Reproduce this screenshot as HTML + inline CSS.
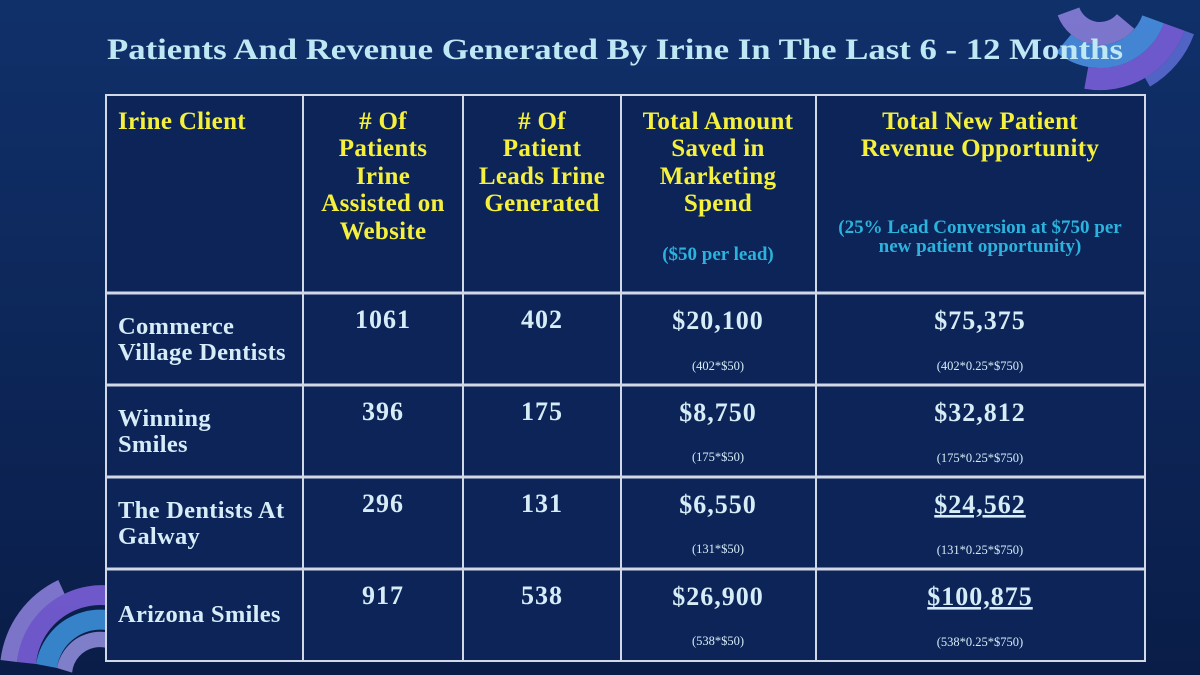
<!DOCTYPE html>
<html><head><meta charset="utf-8"><style>
html,body{margin:0;padding:0;width:1200px;height:675px;overflow:hidden;background:#0e2a5e}
svg{display:block;overflow:hidden}
text{font-family:"Liberation Serif",serif;font-weight:bold}
.h{fill:#f4f03c;font-size:25px;letter-spacing:0.3px}
.s{fill:#2bb3dd;font-size:19px}
.v{fill:#d6ecf7;font-size:26px;letter-spacing:1px}
.n{fill:#d6ecf7;font-size:24.5px;letter-spacing:0.3px}
.m{fill:#d6ecf7;font-size:12.5px;font-weight:normal}
</style></head><body>
<svg width="1200" height="675" viewBox="0 0 1200 675">
<defs><linearGradient id="bg" x1="0" y1="0" x2="0" y2="1"><stop offset="0" stop-color="#10306a"/><stop offset="1" stop-color="#0a1d48"/></linearGradient></defs>
<rect width="1200" height="675" fill="url(#bg)"/>
<g opacity="0.9">
<path d="M1194,34.2 A100,100 0 0 1 1150,86.6 L1145,77.9 A90,90 0 0 0 1184.6,30.8 Z" fill="#5a6ad0"/>
<path d="M1184.6,30.8 A90,90 0 0 1 1084.3,88.7 L1088.2,67 A68,68 0 0 0 1163.9,23.3 Z" fill="#7a5fd8"/>
<path d="M1163.9,23.3 A68,68 0 0 1 1056.3,52.1 L1071.1,34.5 A45,45 0 0 0 1142.3,15.4 Z" fill="#4a90e0"/>
<path d="M1134.5,28.9 A45,45 0 0 1 1057.7,15.4 L1079.3,7.5 A22,22 0 0 0 1116.9,14.1 Z" fill="#8a7ed8"/>
<path d="M0,664.4 L0,664 A102,102 0 0 1 58.3,560.3 L65.1,579.1 A122,122 0 0 0 0,600 Z" fill="#8a7ed8" opacity="0"/>
<path d="M0.5,660 A102,102 0 0 1 58.3,580 L65.1,595 A85,85 0 0 0 17,662 Z" fill="#8a7ed8"/>
<path d="M17,662 A85,85 0 0 1 151,601 L139,617.5 A65,65 0 0 0 36,664 Z" fill="#7a5fd8"/>
<path d="M36,664 A65,65 0 0 1 150,633 L134,645 A44,44 0 0 0 57,668 Z" fill="#3c8fd8"/>
<path d="M57,668 A44,44 0 0 1 138,653 L124.2,661 A28,28 0 0 0 72.1,672.6 Z" fill="#8c8ad8"/>
</g>
<text x="615" y="59" text-anchor="middle" style="font-size:30px;fill:#bfe8f5" textLength="1016" lengthAdjust="spacingAndGlyphs">Patients And Revenue Generated By Irine In The Last 6 - 12 Months</text>
<rect x="106" y="95" width="1039" height="566" fill="#0c2458"/>
<g stroke="#d2d9e6" stroke-width="2" fill="none">
<rect x="106" y="95" width="1039" height="566"/>
<line x1="303" y1="95" x2="303" y2="661"/><line x1="463" y1="95" x2="463" y2="661"/>
<line x1="621" y1="95" x2="621" y2="661"/><line x1="816" y1="95" x2="816" y2="661"/>
<line x1="106" y1="293" x2="1145" y2="293" stroke-width="3"/><line x1="106" y1="385" x2="1145" y2="385" stroke-width="3"/>
<line x1="106" y1="477" x2="1145" y2="477" stroke-width="3"/><line x1="106" y1="569" x2="1145" y2="569" stroke-width="3"/>
</g>
<text class="h" x="118" y="129">Irine Client</text>
<g text-anchor="middle">
<text class="h" x="383" y="129">#&#160;Of</text><text class="h" x="383" y="156">Patients</text><text class="h" x="383" y="184">Irine</text><text class="h" x="383" y="211">Assisted on</text><text class="h" x="383" y="239">Website</text>
<text class="h" x="542" y="129">#&#160;Of</text><text class="h" x="542" y="156">Patient</text><text class="h" x="542" y="184">Leads Irine</text><text class="h" x="542" y="211">Generated</text>
<text class="h" x="718" y="129">Total Amount</text><text class="h" x="718" y="156">Saved in</text><text class="h" x="718" y="184">Marketing</text><text class="h" x="718" y="211">Spend</text>
<text class="h" x="980" y="129">Total New Patient</text><text class="h" x="980" y="156">Revenue Opportunity</text>
<text class="s" x="718" y="260">($50 per lead)</text>
<text class="s" x="980" y="233">(25% Lead Conversion at $750 per</text><text class="s" x="980" y="252">new patient opportunity)</text>
</g>
<text class="n" x="118" y="334">Commerce</text><text class="n" x="118" y="360">Village Dentists</text>
<text class="n" x="118" y="426">Winning</text><text class="n" x="118" y="452">Smiles</text>
<text class="n" x="118" y="518">The Dentists At</text><text class="n" x="118" y="544">Galway</text>
<text class="n" x="118" y="622">Arizona Smiles</text>
<g text-anchor="middle">
<text class="v" x="383" y="328">1061</text><text class="v" x="542" y="328">402</text><text class="v" x="718" y="329">$20,100</text><text class="v" x="980" y="329">$75,375</text>
<text class="m" x="718" y="370">(402*$50)</text><text class="m" x="980" y="370">(402*0.25*$750)</text>
<text class="v" x="383" y="420">396</text><text class="v" x="542" y="420">175</text><text class="v" x="718" y="421">$8,750</text><text class="v" x="980" y="421">$32,812</text>
<text class="m" x="718" y="461">(175*$50)</text><text class="m" x="980" y="462">(175*0.25*$750)</text>
<text class="v" x="383" y="512">296</text><text class="v" x="542" y="512">131</text><text class="v" x="718" y="513">$6,550</text><text class="v" x="980" y="513" text-decoration="underline">$24,562</text>
<text class="m" x="718" y="553">(131*$50)</text><text class="m" x="980" y="554">(131*0.25*$750)</text>
<text class="v" x="383" y="604">917</text><text class="v" x="542" y="604">538</text><text class="v" x="718" y="605">$26,900</text><text class="v" x="980" y="605" text-decoration="underline">$100,875</text>
<text class="m" x="718" y="645">(538*$50)</text><text class="m" x="980" y="646">(538*0.25*$750)</text>
</g>
</svg>
</body></html>
